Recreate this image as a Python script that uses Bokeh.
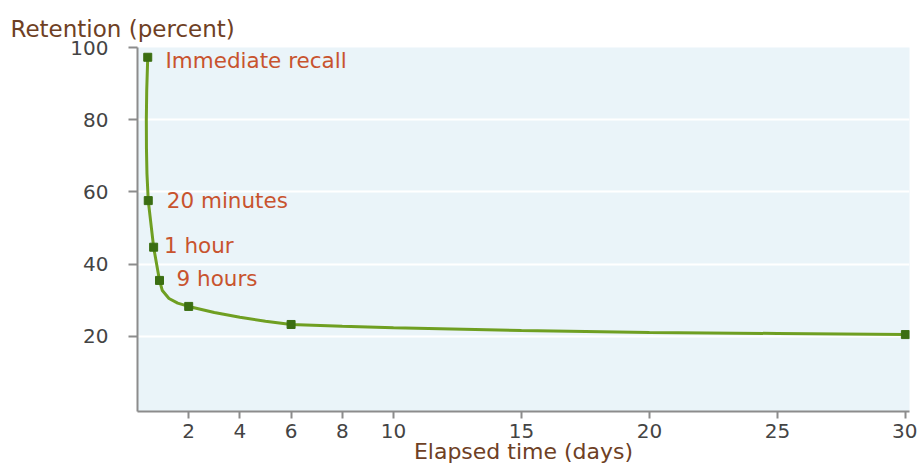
from bokeh.plotting import figure
from bokeh.models import ColumnDataSource, FixedTicker, Range1d
from bokeh.core.properties import value
from bokeh.embed import file_html
from bokeh.resources import INLINE

# ---- data ----
point_days = [0.40, 0.42, 0.63, 0.86, 2, 6, 30]
point_pct = [97.3, 57.6, 44.7, 35.5, 28.3, 23.3, 20.5]

curve_days = [0.40, 0.36, 0.345, 0.35, 0.37, 0.42, 0.63, 0.86, 0.97, 1.23, 1.57,
              2, 3, 4, 5, 6, 8, 10, 15, 20, 25, 30]
curve_pct = [97.3, 88, 80, 72, 65, 57.6, 44.7, 35.5, 32.7, 30.5, 29.2,
             28.3, 26.6, 25.3, 24.2, 23.3, 22.8, 22.4, 21.6, 21.1, 20.8, 20.5]

label_text = ["Immediate recall", "20 minutes", "1 hour", "9 hours"]
label_point = [0, 1, 2, 3]

x_ticks = [2, 4, 6, 8, 10, 15, 20, 25, 30]
y_ticks = [20, 40, 60, 80, 100]

y_title = "Retention (percent)"
x_title = "Elapsed time (days)"

# ---- styles ----
label_dx = [17.7, 18.5, 10.3, 17.0]
label_dy = [3.2, -0.5, -1.5, -1.5]
FONT = "DejaVu Sans"
LINE_GREEN = "#6f9f22"
MARK_GREEN = "#3b6e12"
LABEL_RED = "#c8532e"
BROWN = "#6e4024"

p = figure(width=917, height=466, output_backend="svg", toolbar_location=None,
           x_range=Range1d(0, 30.16), y_range=Range1d(-0.8, 100.0),
           min_border_left=137, min_border_right=8, min_border_top=47,
           min_border_bottom=55)

p.title.text = y_title
p.title.text_font = FONT
p.title.text_font_size = "23px"
p.title.text_font_style = "normal"
p.title.text_color = BROWN
p.title.align = "left"
p.title.offset = -127
p.title.standoff = 11

p.background_fill_color = "#eaf4f9"
p.border_fill_color = "white"
p.outline_line_color = None

p.xgrid.grid_line_color = None
p.ygrid.grid_line_color = "white"
p.ygrid.grid_line_width = 2

for ax in (p.xaxis[0], p.yaxis[0]):
    ax.axis_line_color = "#8c8c8c"
    ax.axis_line_width = 2
    ax.major_tick_line_color = "#8c8c8c"
    ax.major_tick_line_width = 2
    ax.minor_tick_line_color = None
    ax.major_tick_in = 0
    ax.major_label_text_font = FONT
    ax.major_label_text_font_size = "20px"
    ax.major_label_text_color = "#444444"

p.xaxis.ticker = FixedTicker(ticks=x_ticks)
p.yaxis.ticker = FixedTicker(ticks=y_ticks)
p.xaxis.major_tick_out = 7
p.yaxis.major_tick_out = 9
p.xaxis.major_label_standoff = 5
p.yaxis.major_label_standoff = 20

p.xaxis.axis_label = x_title
p.xaxis.axis_label_text_font = FONT
p.xaxis.axis_label_text_font_size = "22px"
p.xaxis.axis_label_text_font_style = "normal"
p.xaxis.axis_label_text_color = BROWN
p.xaxis.axis_label_standoff = -2

p.line(curve_days, curve_pct, line_color=LINE_GREEN, line_width=3)
p.scatter(point_days, point_pct, marker="square", size=8,
          fill_color=MARK_GREEN, line_color=MARK_GREEN)

src = ColumnDataSource(dict(
    x=[point_days[i] for i in label_point],
    y=[point_pct[i] for i in label_point],
    t=label_text, dx=label_dx, dy=label_dy))
p.text(x="x", y="y", text="t", x_offset="dx", y_offset="dy", source=src,
       text_font=value(FONT), text_font_size="21.5px", text_color=LABEL_RED,
       text_baseline="alphabetic", text_align="left")

open("out.html", "w").write(file_html(p, INLINE))
